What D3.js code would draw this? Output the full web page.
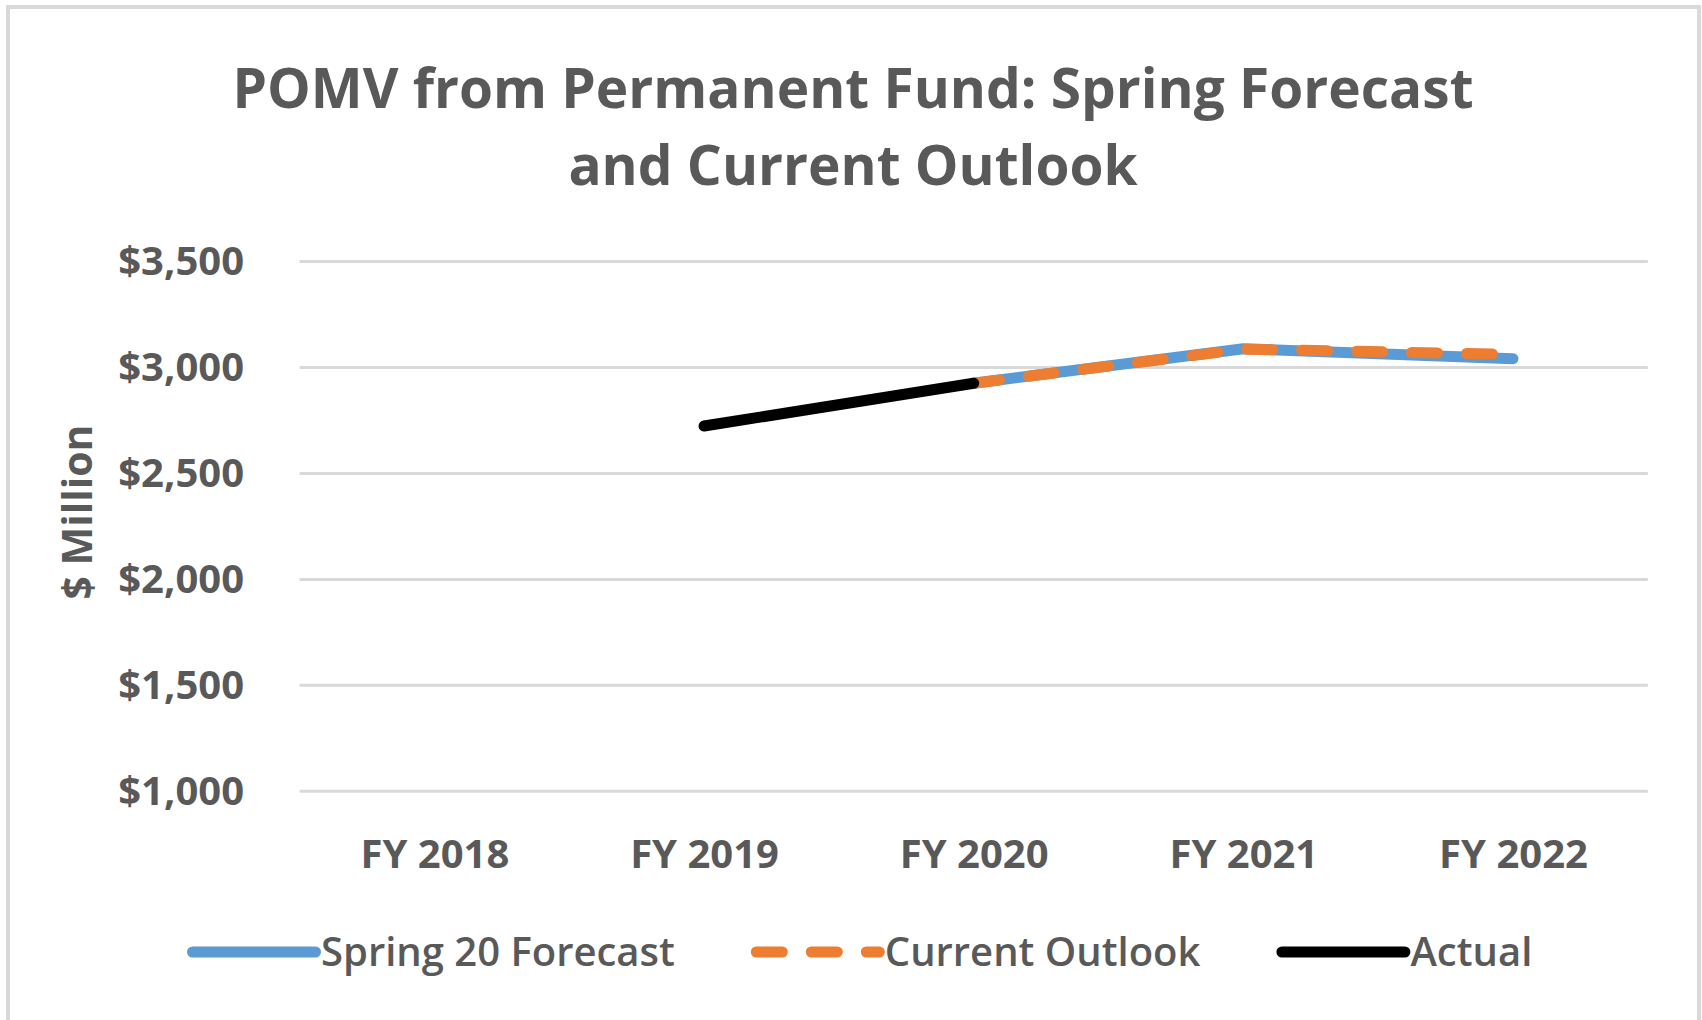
<!DOCTYPE html>
<html>
<head>
<meta charset="utf-8">
<script src="https://cdn.jsdelivr.net/npm/d3@7"></script>
<style>
  body { margin: 0; background: #fff; }
  text { font-family: 'Open Sans', sans-serif; fill: #595959; }
</style>
</head>
<body>
<svg class="chart"></svg>
<script>
const categories = ['FY 2018', 'FY 2019', 'FY 2020', 'FY 2021', 'FY 2022']
const springForecast = [null, null, 2926, 3089, 3042]
const currentOutlook = [null, null, 2926, 3087, 3062]
const actual = [null, 2724, 2926, null, null]
const yTicks = [1000, 1500, 2000, 2500, 3000, 3500]
const titleLines = ['POMV from Permanent Fund: Spring Forecast', 'and Current Outlook']

const series = [
  { name: 'Spring 20 Forecast', values: springForecast, color: '#5B9BD5', dash: null },
  { name: 'Current Outlook', values: currentOutlook, color: '#ED7D31', dash: '26,29' },
  { name: 'Actual', values: actual, color: '#000000', dash: null }
]

const width = 1702
const height = 1020
const plot = { left: 299.6, right: 1647.8, top: 261.6, bottom: 791.3 }

const chart = d3.select('.chart')
  .attr('width', width)
  .attr('height', height)

chart.append('rect')
  .attr('x', 8).attr('y', 7)
  .attr('width', 1691).attr('height', 1100)
  .attr('fill', '#fff')
  .attr('stroke', '#D9D9D9')
  .attr('stroke-width', 4)

const xScale = d3.scalePoint()
  .domain(categories)
  .range([plot.left, plot.right])
  .padding(0.5)

const yScale = d3.scaleLinear()
  .domain([1000, 3500])
  .range([plot.bottom, plot.top])

// title
chart.append('g').attr('class', 'title')
  .selectAll('text')
  .data(titleLines)
  .enter()
  .append('text')
  .attr('x', 853)
  .attr('y', (d, i) => 108 + i * 77)
  .attr('text-anchor', 'middle')
  .attr('font-size', 55)
  .attr('font-weight', 700)
  .text(d => d)

// gridlines
chart.append('g').attr('class', 'grid')
  .selectAll('line')
  .data(yTicks)
  .enter()
  .append('line')
  .attr('x1', plot.left)
  .attr('x2', plot.right)
  .attr('y1', d => yScale(d))
  .attr('y2', d => yScale(d))
  .attr('stroke', '#D9D9D9')
  .attr('stroke-width', 3)

// y axis labels
const yAxis = chart.append('g').attr('class', 'axisLeft')
  .attr('transform', 'translate(244,0)')
  .call(d3.axisLeft(yScale).tickValues(yTicks).tickSize(0).tickPadding(0)
    .tickFormat(d => '$' + d3.format(',')(d)))
yAxis.select('.domain').remove()
yAxis.selectAll('text')
  .attr('font-size', 40)
  .attr('font-weight', 700)
  .attr('font-family', null)
  .attr('fill', '#595959')

// x axis labels
const xAxis = chart.append('g').attr('class', 'axisBottom')
  .attr('transform', `translate(0,${plot.bottom})`)
  .call(d3.axisBottom(xScale).tickSize(0).tickPadding(0))
xAxis.select('.domain').remove()
xAxis.selectAll('text')
  .attr('dy', null)
  .attr('y', 77)
  .attr('font-size', 40)
  .attr('font-weight', 700)
  .attr('font-family', null)
  .attr('fill', '#595959')

// y axis title
chart.append('text')
  .attr('transform', 'translate(92,512) rotate(-90)')
  .attr('text-anchor', 'middle')
  .attr('font-size', 41)
  .attr('font-weight', 700)
  .text('$ Million')

// lines
const line = d3.line()
  .defined(d => d.value !== null)
  .x(d => xScale(d.cat))
  .y(d => yScale(d.value))

chart.append('g').attr('class', 'lines')
  .selectAll('path')
  .data(series)
  .enter()
  .append('path')
  .attr('d', s => line(s.values.map((value, i) => ({ cat: categories[i], value }))))
  .attr('fill', 'none')
  .attr('stroke', s => s.color)
  .attr('stroke-width', 11)
  .attr('stroke-linecap', 'round')
  .attr('stroke-linejoin', 'round')
  .attr('stroke-dasharray', s => s.dash)

// legend
const legend = chart.append('g').attr('class', 'legend')
let lx = 187
const ly = 952
series.forEach(s => {
  legend.append('line')
    .attr('x1', lx + 5.5).attr('x2', lx + 128.5)
    .attr('y1', ly).attr('y2', ly)
    .attr('stroke', s.color)
    .attr('stroke-width', 11)
    .attr('stroke-linecap', 'round')
    .attr('stroke-dasharray', s.dash)
  const t = legend.append('text')
    .attr('x', lx + 134)
    .attr('y', ly)
    .attr('dy', '0.36em')
    .attr('font-size', 40)
    .attr('font-weight', 600)
    .text(s.name)
  lx += 134 + t.node().getComputedTextLength() + 76
})
</script>
</body>
</html>
